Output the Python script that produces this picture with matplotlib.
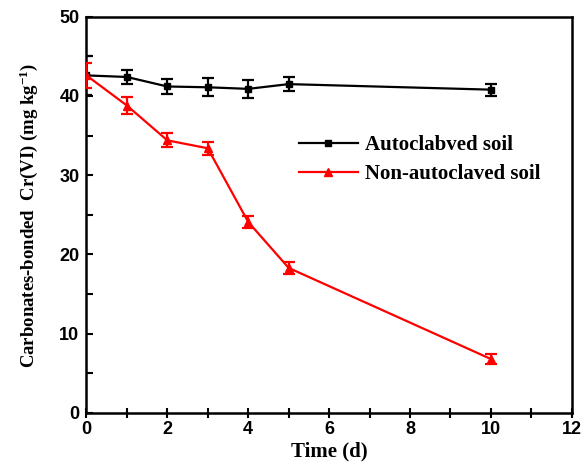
import matplotlib
matplotlib.use("Agg")
import matplotlib.pyplot as plt
from matplotlib.ticker import MultipleLocator
from matplotlib.lines import Line2D

days = [0, 1, 2, 3, 4, 5, 10]
auto = [42.6, 42.4, 41.2, 41.1, 40.9, 41.5, 40.8]
auto_err = [2.5, 0.85, 0.9, 1.15, 1.1, 0.9, 0.75]
nonauto = [42.6, 38.8, 34.4, 33.4, 24.1, 18.3, 6.8]
nonauto_err = [1.6, 1.1, 0.9, 0.85, 0.8, 0.8, 0.6]

plt.rcParams['mathtext.default'] = 'bf'
plt.rcParams['mathtext.fontset'] = 'custom'
plt.rcParams['mathtext.bf'] = 'Liberation Serif:bold'

f = plt.figure(figsize=(5.84, 4.66), dpi=100)
ax = f.add_axes([0.148, 0.114, 0.831, 0.85])

ax.errorbar(days, auto, yerr=auto_err, color='black', marker='s', ms=5, lw=1.6,
            capsize=4, capthick=1.6, elinewidth=1.6, zorder=3)
ax.errorbar(days, nonauto, yerr=nonauto_err, color='red', marker='^', ms=6, lw=1.6,
            capsize=4, capthick=1.6, elinewidth=1.6, zorder=3)

ax.set_xlim(0, 12)
ax.set_ylim(0, 50)
ax.xaxis.set_major_locator(MultipleLocator(2))
ax.xaxis.set_minor_locator(MultipleLocator(1))
ax.yaxis.set_major_locator(MultipleLocator(10))
ax.yaxis.set_minor_locator(MultipleLocator(5))
ax.tick_params(axis='x', which='both', direction='inout', length=7, width=1.5, labelsize=13, pad=2)
ax.tick_params(axis='y', which='both', direction='in', length=5, width=1.5, labelsize=13, pad=5)
for lab in ax.get_xticklabels() + ax.get_yticklabels():
    lab.set_fontweight('bold')
    lab.set_family('Liberation Sans')
for s in ax.spines.values():
    s.set_linewidth(1.8)

ax.set_xlabel('Time (d)', fontsize=15, fontweight='bold', family='Liberation Serif', labelpad=3)
ax.set_ylabel('Carbonates-bonded  Cr(VI) (mg kg$^{-1}$)', fontsize=13.5, fontweight='bold',
              family='Liberation Serif', labelpad=14)

handles = [Line2D([], [], color='black', marker='s', ms=5, lw=1.6),
           Line2D([], [], color='red', marker='^', ms=6, lw=1.6)]
ax.legend(handles, ['Autoclabved soil', 'Non-autoclaved soil'], loc='upper left',
          bbox_to_anchor=(0.40, 0.748), frameon=False,
          prop={'family': 'Liberation Serif', 'weight': 'bold', 'size': 15},
          handlelength=2.8, labelspacing=0.42, handletextpad=0.35)

f.savefig('out.png', dpi=100)
